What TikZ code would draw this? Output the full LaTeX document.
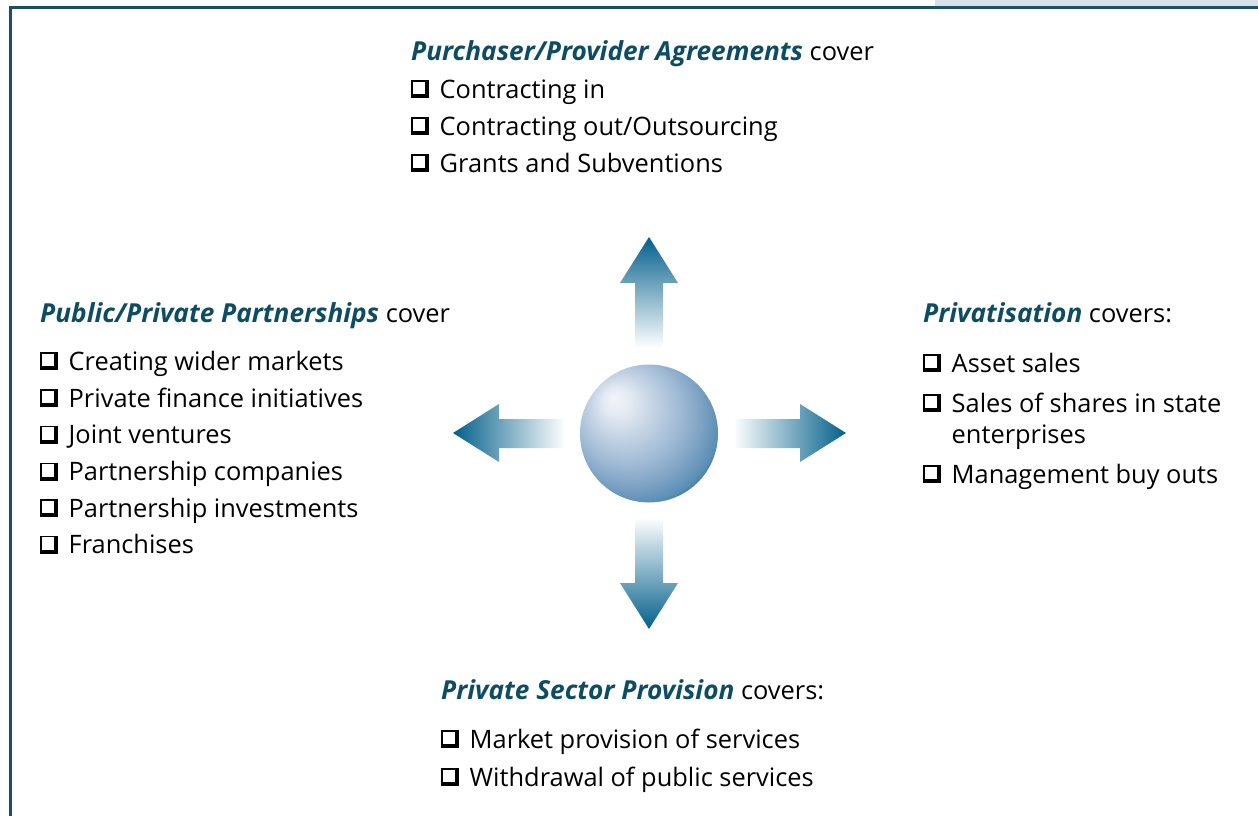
\documentclass[tikz,border=0pt]{standalone}
\usepackage{fontspec}
\setmainfont{Open Sans}
\definecolor{framec}{HTML}{1B4E67}
\definecolor{stripc}{HTML}{D9E1E8}
\definecolor{headc}{HTML}{0E4C63}
\definecolor{arrowdark}{HTML}{04608B}
\definecolor{arrowmid}{HTML}{8DABC8}
\definecolor{sph0}{HTML}{F2F5F9}
\definecolor{sphA}{HTML}{E3EAF2}
\definecolor{sphB}{HTML}{C6D5E5}
\definecolor{sphC}{HTML}{A2BCD6}
\definecolor{sphD}{HTML}{80A4C6}
\definecolor{sphE}{HTML}{5A8EB4}
\definecolor{sphF}{HTML}{2A6E98}
% glossy sphere: soft highlight up and to the left
\pgfdeclareradialshading{sphereshade}{\pgfqpoint{-13bp}{13bp}}{%
  color(0bp)=(sph0); color(5bp)=(sphA); color(11bp)=(sphB);
  color(18.7bp)=(sphC); color(25bp)=(sphD); color(30.5bp)=(sphE);
  color(33bp)=(sphF); color(50bp)=(sphF)}
% shadowed check box
\newcommand\ckbox{\makebox[28.5pt][l]{%
  \rlap{\rule{1.7pt}{18pt}}%
  \rlap{\rule[16.3pt]{18pt}{1.7pt}}%
  \rlap{\rule{18pt}{3.8pt}}%
  \rlap{\hspace{14.2pt}\rule{3.8pt}{18pt}}}}
\tikzset{
  txt/.style={anchor=base west, inner sep=0pt, font=\fontsize{25.4}{30}\selectfont}
}
\newcommand\hdr[1]{{\color{headc}\fontsize{26.2}{30}\selectfont\bfseries\itshape #1}}
\begin{document}
\begin{tikzpicture}[x=1pt,y=1pt]
\useasboundingbox (0,0) rectangle (1258,-816);
% frame
\fill[stripc] (935,0) rectangle (1258,-6);
\fill[framec] (9,-6) rectangle (1258,-8.6);
\fill[framec] (9,-6) rectangle (11.7,-816);

% centre sphere
\node[circle, shading=sphereshade, minimum size=138pt, inner sep=0pt] (sphere) at (649,-433.5) {};

% four arrows
\shade[top color=arrowdark, middle color=arrowmid, bottom color=white]
  (635,-348) -- (635,-283) -- (620,-283) -- (649,-237) -- (678,-283) -- (663,-283) -- (663,-348) -- cycle;
\shade[bottom color=arrowdark, middle color=arrowmid, top color=white]
  (635,-517) -- (635,-583) -- (620,-583) -- (649,-629) -- (678,-583) -- (663,-583) -- (663,-517) -- cycle;
\shade[left color=arrowdark, middle color=arrowmid, right color=white]
  (565,-419) -- (499,-419) -- (499,-404) -- (453,-433) -- (499,-462) -- (499,-448) -- (565,-448) -- cycle;
\shade[right color=arrowdark, middle color=arrowmid, left color=white]
  (733,-419) -- (800,-419) -- (800,-404) -- (846,-433) -- (800,-462) -- (800,-448) -- (733,-448) -- cycle;

% top block
\node[txt] (th) at (411,-60) {\hdr{Purchaser/Provider Agreements} cover};
\node[txt] (t1) at (411,-98) {\ckbox Contracting in};
\node[txt] (t2) at (411,-135) {\ckbox Contracting out/Outsourcing};
\node[txt] (t3) at (411,-172) {\ckbox Grants and Subventions};

% left block
\node[txt] (lh) at (40,-322) {\hdr{Public/Private Partnerships} cover};
\node[txt] (l1) at (40,-370) {\ckbox Creating wider markets};
\node[txt] (l2) at (40,-407) {\ckbox Private finance initiatives};
\node[txt] (l3) at (40,-443.5) {\ckbox Joint ventures};
\node[txt] (l4) at (40,-480.5) {\ckbox Partnership companies};
\node[txt] (l5) at (40,-517) {\ckbox Partnership investments};
\node[txt] (l6) at (40,-553.5) {\ckbox Franchises};

% right block
\node[txt] (rh) at (923,-322) {\hdr{Privatisation} covers:};
\node[txt] (r1) at (923,-372) {\ckbox Asset sales};
\node[txt] (r2) at (923,-412) {\ckbox Sales of shares in state};
\node[txt] (r2b) at (951.5,-443) {enterprises};
\node[txt] (r3) at (923,-483) {\ckbox Management buy outs};

% bottom block
\node[txt] (bh) at (441,-699) {\hdr{Private Sector Provision} covers:};
\node[txt] (b1) at (441,-748) {\ckbox Market provision of services};
\node[txt] (b2) at (441,-786) {\ckbox Withdrawal of public services};
\end{tikzpicture}
\end{document}
